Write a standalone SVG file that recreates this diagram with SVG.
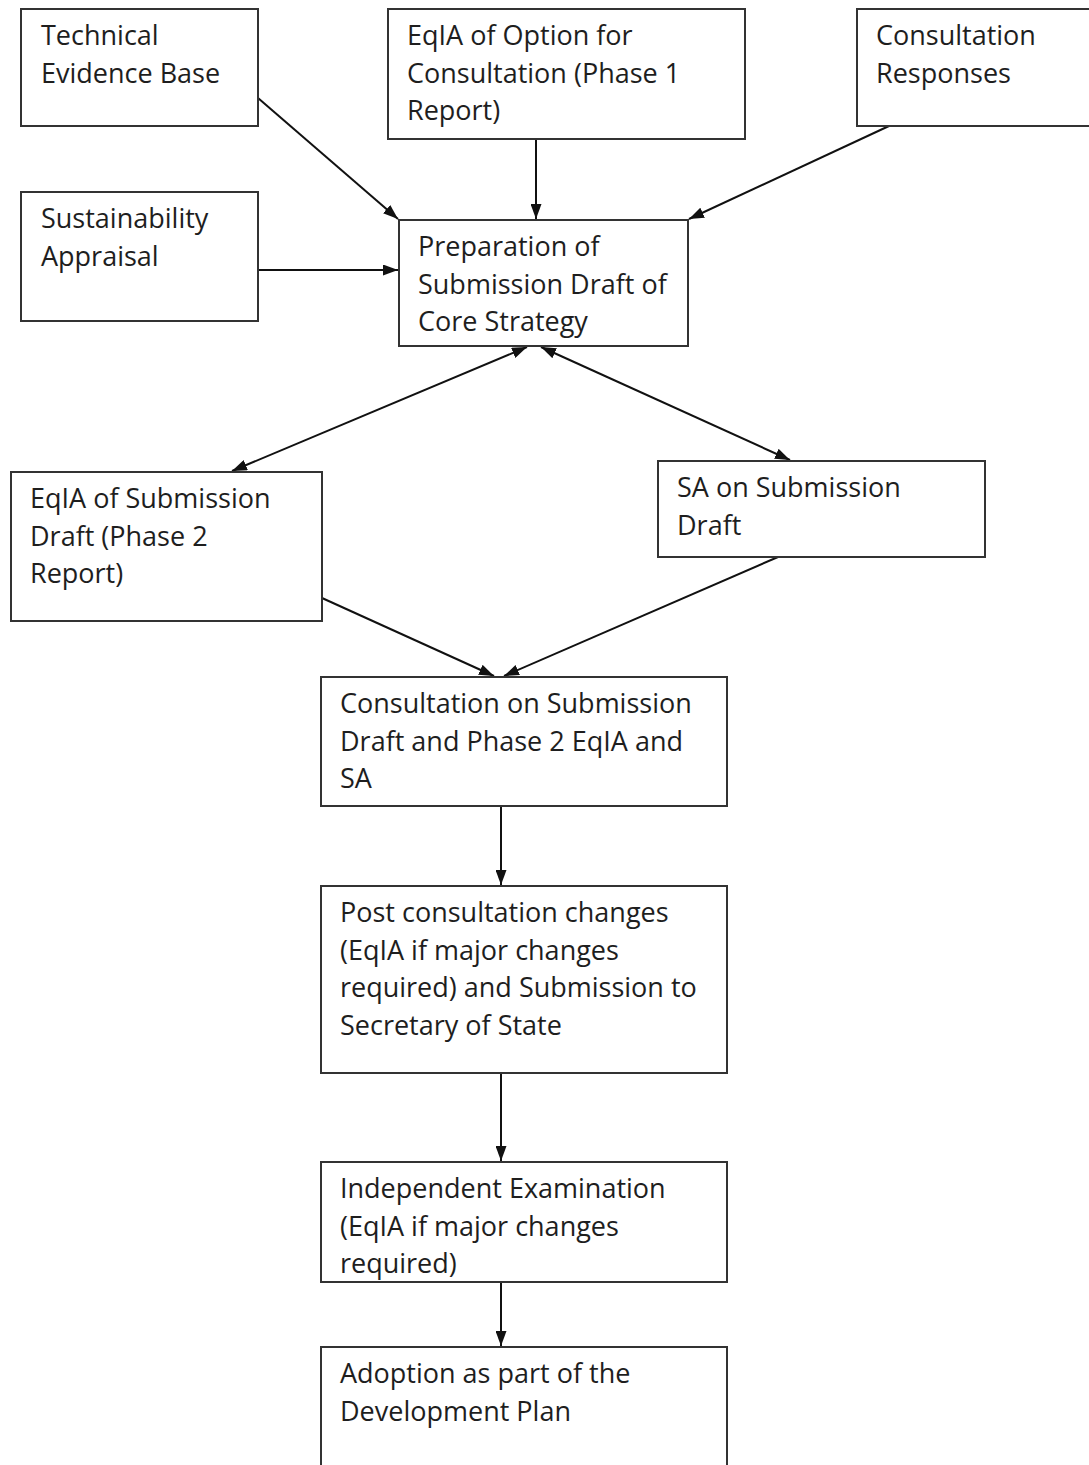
<svg xmlns="http://www.w3.org/2000/svg" width="1089" height="1465" viewBox="0 0 1089 1465">
<style>
.box{fill:#fff;stroke:#333;stroke-width:2}
.t{font-family:"Open Sans","DejaVu Sans",sans-serif;font-size:27px;fill:#1e1e1e}
.c{stroke:#111;stroke-width:2;fill:none;marker-end:url(#ah)}
.d{marker-start:url(#ah)}
</style>
<defs>
<marker id="ah" viewBox="0 0 15 11" markerWidth="15" markerHeight="11" refX="15" refY="5.5" orient="auto-start-reverse" markerUnits="userSpaceOnUse">
<path d="M0,0 L15,5.5 L0,11 z" fill="#111"/>
</marker>
</defs>
<rect width="1089" height="1465" fill="#fff"/>
<g id="connectors">
<line class="c" x1="258" y1="98" x2="398" y2="219"/>
<line class="c" x1="536" y1="139" x2="536" y2="219"/>
<line class="c" x1="889" y1="126" x2="689" y2="219"/>
<line class="c" x1="258" y1="270" x2="398" y2="270"/>
<line class="c d" x1="527" y1="347" x2="232" y2="471"/>
<line class="c d" x1="541" y1="347" x2="790" y2="460"/>
<line class="c" x1="322" y1="598" x2="494" y2="676"/>
<line class="c" x1="778" y1="557" x2="504" y2="676"/>
<line class="c" x1="501" y1="806" x2="501" y2="885"/>
<line class="c" x1="501" y1="1073" x2="501" y2="1161"/>
<line class="c" x1="501" y1="1282" x2="501" y2="1346"/>
</g>
<g id="n1"><rect class="box" x="21" y="9" width="237" height="117"/>
<text class="t"><tspan x="41" y="45">Technical</tspan><tspan x="41" y="83">Evidence Base</tspan></text></g>
<g id="n2"><rect class="box" x="388" y="9" width="357" height="130"/>
<text class="t"><tspan x="407" y="45">EqIA of Option for</tspan><tspan x="407" y="83">Consultation (Phase 1</tspan><tspan x="407" y="120">Report)</tspan></text></g>
<g id="n3"><rect class="box" x="857" y="9" width="240" height="117"/>
<text class="t"><tspan x="876" y="45">Consultation</tspan><tspan x="876" y="83">Responses</tspan></text></g>
<g id="n4"><rect class="box" x="21" y="192" width="237" height="129"/>
<text class="t"><tspan x="41" y="228">Sustainability</tspan><tspan x="41" y="266">Appraisal</tspan></text></g>
<g id="n5"><rect class="box" x="399" y="220" width="289" height="126"/>
<text class="t"><tspan x="418" y="256">Preparation of</tspan><tspan x="418" y="294">Submission Draft of</tspan><tspan x="418" y="331">Core Strategy</tspan></text></g>
<g id="n6"><rect class="box" x="11" y="472" width="311" height="149"/>
<text class="t"><tspan x="30" y="508">EqIA of Submission</tspan><tspan x="30" y="546">Draft (Phase 2</tspan><tspan x="30" y="583">Report)</tspan></text></g>
<g id="n7"><rect class="box" x="658" y="461" width="327" height="96"/>
<text class="t"><tspan x="677" y="497">SA on Submission</tspan><tspan x="677" y="535">Draft</tspan></text></g>
<g id="n8"><rect class="box" x="321" y="677" width="406" height="129"/>
<text class="t"><tspan x="340" y="713">Consultation on Submission</tspan><tspan x="340" y="751">Draft and Phase 2 EqIA and</tspan><tspan x="340" y="788">SA</tspan></text></g>
<g id="n9"><rect class="box" x="321" y="886" width="406" height="187"/>
<text class="t"><tspan x="340" y="922">Post consultation changes</tspan><tspan x="340" y="960">(EqIA if major changes</tspan><tspan x="340" y="997">required) and Submission to</tspan><tspan x="340" y="1035">Secretary of State</tspan></text></g>
<g id="n10"><rect class="box" x="321" y="1162" width="406" height="120"/>
<text class="t"><tspan x="340" y="1198">Independent Examination</tspan><tspan x="340" y="1236">(EqIA if major changes</tspan><tspan x="340" y="1273">required)</tspan></text></g>
<g id="n11"><rect class="box" x="321" y="1347" width="406" height="130"/>
<text class="t"><tspan x="340" y="1383">Adoption as part of the</tspan><tspan x="340" y="1421">Development Plan</tspan></text></g>
</svg>
